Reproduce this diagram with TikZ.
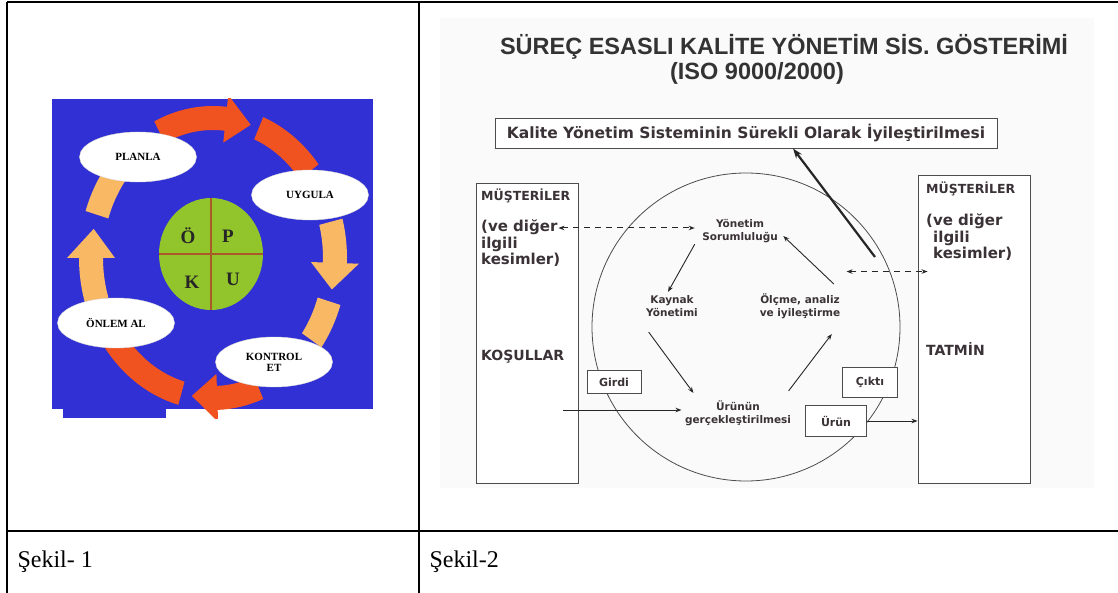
\documentclass[tikz,border=0pt]{standalone}
\usepackage{fontspec}
\setmainfont{Liberation Serif}
\newfontfamily\verdfont{DejaVu Sans}
\newfontfamily\arialfont{Liberation Sans}
\usepackage{xcolor}
\usetikzlibrary{arrows.meta, positioning, calc, shapes.geometric}

\definecolor{pdcablue}{RGB}{48,48,212}
\definecolor{ringred}{RGB}{240,82,32}
\definecolor{ringtan}{RGB}{249,184,100}
\definecolor{quadgreen}{RGB}{146,196,44}
\definecolor{quadline}{RGB}{170,90,40}
\definecolor{isotext}{RGB}{58,50,54}

\begin{document}
\begin{tikzpicture}[
    x=1pt, y=-1pt,
    %% Table rules and captions
    rule/.style = {line width=2.2pt, black},
    caption/.style = {anchor=west, font=\fontsize{24}{26}\selectfont},
    %% PUKO wheel
    stage/.style = {
      ellipse, fill=white, draw=black!15, line width=0.4pt,
      minimum width=117pt, minimum height=50pt, inner sep=0pt,
      align=center, font=\bfseries\fontsize{11}{11}\selectfont},
    quad/.style = {font=\bfseries\fontsize{19}{19}\selectfont, text=black!85},
    %% ISO 9000 diagram
    sbox/.style = {
      draw=black!70, line width=0.9pt, fill=white, inner sep=2pt,
      font=\verdfont\bfseries\fontsize{11}{12}\selectfont, text=isotext},
    inlbl/.style = {
      align=center, text=isotext,
      font=\verdfont\bfseries\fontsize{10.5}{13}\selectfont},
    sidelbl/.style = {
      anchor=north west, align=left, inner sep=0pt, text=isotext,
      font=\verdfont\bfseries\fontsize{15}{16.5}\selectfont},
    arr/.style  = {-{Stealth[length=6pt,width=4.5pt]}, line width=0.9pt, black!85},
    darr/.style = {{Stealth[length=6pt,width=4.5pt]}-{Stealth[length=6pt,width=4.5pt]},
      dash pattern=on 6pt off 5pt, line width=1pt, black!85},
  ]
  \useasboundingbox (0,0) rectangle (1118,593);

  %% ── Table ───────────────────────────────────────────────────────────
  \draw[rule] (7,2) -- (1118,2);
  \draw[rule] (7,2) -- (7,593);
  \draw[rule] (419,2) -- (419,593);
  \draw[rule] (7,531) -- (1118,531);
  \node[caption] (cap1) at (14,562) {Şekil- 1};
  \node[caption] (cap2) at (426,562) {Şekil-2};

  %% ── Şekil 1: PUKO wheel ─────────────────────────────────────────────
  \fill[pdcablue] (52,99) rectangle (373,409);
  \fill[pdcablue] (63,405) rectangle (166,418);
  \coordinate (W) at (213,258);

  \begin{scope}
    \clip (52,99) rectangle (373,418);
    %% bands with heads: start / head / tip / colour
    \foreach \a/\b/\t/\c in {-116/-84/-72/ringred, -15/2/13/ringtan,
                             68/88/100/ringred, -198/-180/-168/ringtan}{
      \fill[\c] ($(W)+(\a:134 and 152)$)
        arc[start angle=\a, end angle=\b, x radius=134, y radius=152]
        -- ($(W)+(\b:146 and 164)$) -- ($(W)+(\t:122 and 140)$)
        -- ($(W)+(\b:98 and 116)$) -- ($(W)+(\b:110 and 128)$)
        arc[start angle=\b, end angle=\a, x radius=110, y radius=128] -- cycle;
    }
    %% plain bands running under the stages
    \foreach \a/\b/\c in {-68/-38/ringred, 18/36/ringtan,
                          105/145/ringred, -162/-140/ringtan}{
      \fill[\c] ($(W)+(\a:134 and 152)$)
        arc[start angle=\a, end angle=\b, x radius=134, y radius=152]
        -- ($(W)+(\b:110 and 128)$)
        arc[start angle=\b, end angle=\a, x radius=110, y radius=128] -- cycle;
    }
  \end{scope}

  \node[stage] (plan) at (138,157) {PLANLA};
  \node[stage] (uyg)  at (310,195) {UYGULA};
  \node[stage] (kont) at (274,362) {KONTROL\\ET};
  \node[stage] (onl)  at (116,323) {ÖNLEM AL};

  \node[ellipse, fill=quadgreen, minimum width=104pt, minimum height=112pt,
        inner sep=0pt] (puko) at (211,254) {};
  \draw[quadline, line width=1.4pt] (puko.north) -- (puko.south);
  \draw[quadline, line width=1.4pt] (puko.west) -- (puko.east);
  \node[quad] (qO) at (188,236) {Ö};
  \node[quad] (qP) at (228,236) {P};
  \node[quad] (qK) at (192,282) {K};
  \node[quad] (qU) at (233,279) {U};

  %% ── Şekil 2: ISO 9000 process model ────────────────────────────────
  \fill[black!2] (440,18) rectangle (1094,488);
  \node[font=\arialfont\bfseries\fontsize{23.5}{25}\selectfont, text=black!80]
    (title) at (784,47) {SÜREÇ ESASLI KALİTE YÖNETİM SİS. GÖSTERİMİ};
  \node[font=\arialfont\bfseries\fontsize{23.5}{25}\selectfont, text=black!80]
    (iso) at (757,73) {(ISO 9000/2000)};
  \node[sbox, font=\verdfont\bfseries\fontsize{15.5}{17}\selectfont,
        minimum width=502pt, minimum height=30pt] (kys) at (746,133)
    {Kalite Yönetim Sisteminin Sürekli Olarak İyileştirilmesi};

  \node[draw=black!70, line width=0.9pt, fill=white,
        minimum width=102pt, minimum height=300pt] (musL) at (527,333) {};
  \node[draw=black!70, line width=0.9pt, fill=white,
        minimum width=112pt, minimum height=308pt] (musR) at (974,329) {};
  \node[circle, draw=black!70, line width=0.8pt, minimum size=308pt] (proc) at (746,327) {};

  %% left customers
  \node[sidelbl, font=\verdfont\bfseries\fontsize{12.5}{14}\selectfont] (musLt) at (481,189) {MÜŞTERİLER};
  \node[sidelbl] (veL) at (481,220) {(ve diğer\\ilgili\\kesimler)};
  \node[sidelbl, font=\verdfont\bfseries\fontsize{14}{16}\selectfont] (kos) at (481,350) {KOŞULLAR};
  %% right customers
  \node[sidelbl, font=\verdfont\bfseries\fontsize{12.5}{14}\selectfont] (musRt) at (926,182) {MÜŞTERİLER};
  \node[sidelbl] (veR) at (926,214) {(ve diğer\\\hspace*{7pt}ilgili\\\hspace*{7pt}kesimler)};
  \node[sidelbl, font=\verdfont\bfseries\fontsize{14}{16}\selectfont] (tat) at (926,342) {TATMİN};

  %% process labels
  \node[inlbl] (ys)  at (740,231) {Yönetim\\Sorumluluğu};
  \node[inlbl] (kay) at (672,306) {Kaynak\\Yönetimi};
  \node[inlbl] (olc) at (800,306) {Ölçme, analiz\\ve iyileştirme};
  \node[inlbl] (urg) at (738,413) {Ürünün\\gerçekleştirilmesi};

  \node[sbox, minimum width=54pt, minimum height=23pt] (girdi) at (614,382) {Girdi};
  \node[sbox, minimum width=55pt, minimum height=30pt] (cikti) at (870,382) {Çıktı};
  \node[sbox, minimum width=61pt, minimum height=31pt] (urun)  at (836,421) {Ürün};

  %% loop arrows
  \draw[arr] ([xshift=-4pt,yshift=2pt]ys.south west) -- ([xshift=-4pt]kay.north);
  \draw[arr] ([xshift=6pt,yshift=-12pt]kay.south west) -- ([xshift=12pt,yshift=4pt]urg.north west);
  \draw[arr] ([xshift=-6pt,yshift=6pt]urg.north east) -- ([xshift=-12pt,yshift=-12pt]olc.south east);
  \draw[arr] ([xshift=-10pt,yshift=6pt]olc.north east) -- ([xshift=2pt,yshift=-5pt]ys.east);

  %% dashed information flows
  \coordinate (dl) at ([xshift=-2pt,yshift=-8pt]veL.north east);
  \draw[darr] (dl) -- ([xshift=-4pt]ys.west |- dl);
  \coordinate (dr) at ($(musR.north west)+(10,97)$);
  \draw[darr] ($(dr)+(-81,0)$) -- (dr);

  %% input / output
  \coordinate (gin) at ($(musL.east)+(-15,77)$);
  \draw[arr] (gin) -- (gin -| urg.west);
  \draw[arr] (urun.east) -- (urun.east -| musR.west);

  %% improvement feedback
  \coordinate (tk) at (875,257);
  \draw[-{Stealth[length=10pt,width=7pt]}, line width=2.2pt, black!85]
    (tk) -- ($(kys.south)+(47,0)$);

\end{tikzpicture}
\end{document}
